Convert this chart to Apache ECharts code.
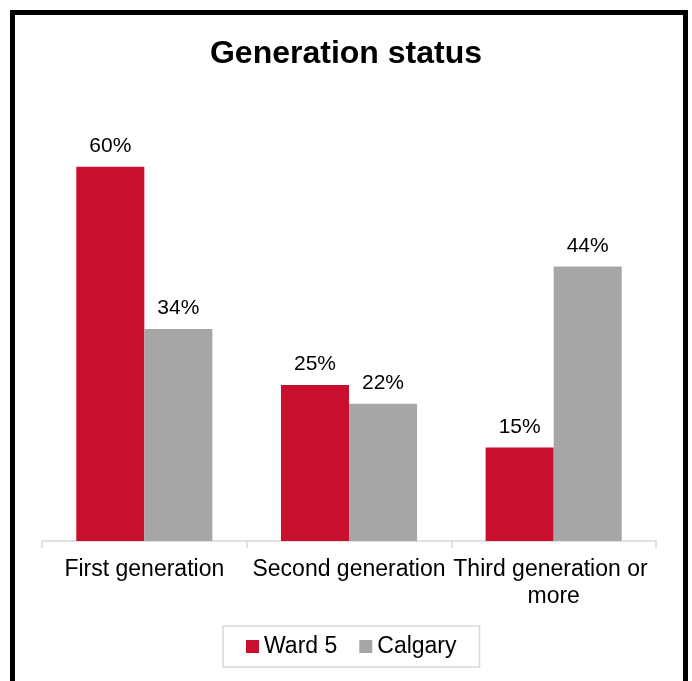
<!DOCTYPE html>
<html>
<head>
<meta charset="utf-8">
<script src="https://cdn.jsdelivr.net/npm/echarts@6/dist/echarts.min.js"></script>
<style>
html,body{margin:0;padding:0;background:#fff;}
#c{width:692px;height:681px;}
</style>
</head>
<body>
<div id="c"></div>
<script>
const titleText = "Generation status";
const categories = ["First generation", "Second generation", "Third generation or more"];
const seriesNames = ["Ward 5", "Calgary"];
const ward5 = [60, 25, 15];
const calgary = [34, 22, 44];
const colors = ["#C8102E", "#A6A6A6"];

const chart = echarts.init(document.getElementById('c'), null, {renderer: 'canvas'});
const font = "'Liberation Sans', Arial, sans-serif";
const labelCfg = {
  show: true, position: 'top', distance: 10,
  formatter: p => p.value + '%',
  fontFamily: font, fontSize: 21, color: '#000'
};
chart.setOption({
  animation: false,
  textStyle: {fontFamily: font},
  title: {
    text: titleText, left: 'center', top: 33,
    textStyle: {fontFamily: font, fontSize: 32, fontWeight: 'bold', color: '#000'}
  },
  graphic: [{
    type: 'rect', silent: true,
    shape: {x: 12.5, y: 12.5, width: 673, height: 720},
    style: {fill: 'none', stroke: '#000', lineWidth: 5}
  }],
  legend: {
    data: seriesNames, left: 223, top: 626,
    icon: 'rect', itemWidth: 13, itemHeight: 13, itemGap: 22,
    borderColor: '#d9d9d9', borderWidth: 1.5, padding: [9, 23, 9, 23],
    textStyle: {fontFamily: font, fontSize: 23, color: '#000'}
  },
  grid: {left: 42, right: 36, top: 92, bottom: 140, containLabel: false},
  xAxis: {
    type: 'category', data: categories,
    axisLine: {show: true, lineStyle: {color: '#d9d9d9', width: 1.5}},
    axisTick: {show: true, alignWithLabel: false, length: 7, lineStyle: {color: '#d9d9d9', width: 1.5}},
    axisLabel: {
      interval: 0, margin: 15, fontFamily: font, fontSize: 23, color: '#000',
      lineHeight: 27, width: 206, overflow: 'break'
    }
  },
  yAxis: {type: 'value', min: 0, max: 72, show: false, splitLine: {show: false}},
  series: [
    {name: seriesNames[0], type: 'bar', data: ward5, itemStyle: {color: colors[0]},
     barGap: '0%', barCategoryGap: '33.5%', label: labelCfg},
    {name: seriesNames[1], type: 'bar', data: calgary, itemStyle: {color: colors[1]},
     barGap: '0%', barCategoryGap: '33.5%', label: labelCfg}
  ]
});
</script>
</body>
</html>
